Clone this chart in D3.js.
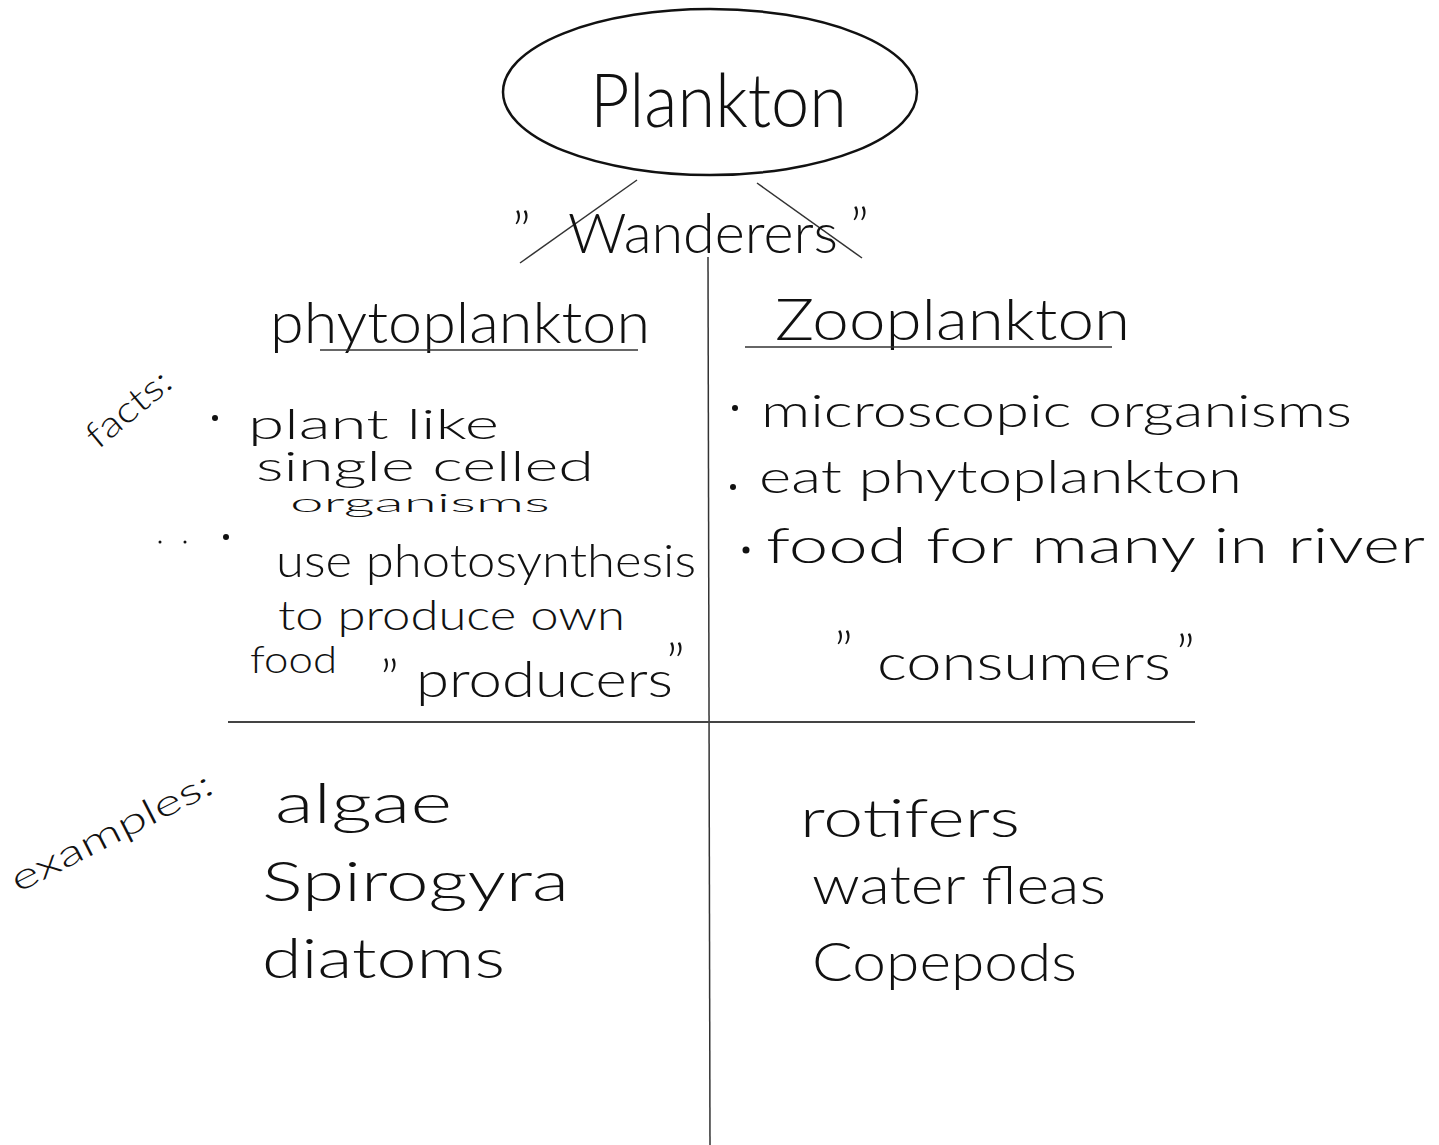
<!DOCTYPE html>
<html>
<head>
<meta charset="utf-8">
<script src="https://cdn.jsdelivr.net/npm/d3@7"></script>
<style>
  body { margin:0; background:#fff; }
  svg text { font-family: Lato, "Open Sans", "DejaVu Sans", sans-serif; font-weight:300; fill:#111; }
</style>
</head>
<body>
<script>
// data
var title = "Plankton";
var subtitle = "Wanderers";
var headings = ["phytoplankton", "Zooplankton"];
var phytoFacts = ["plant like", "single celled", "organisms", "use photosynthesis", "to produce own", "food"];
var zooFacts = ["microscopic organisms", "eat phytoplankton", "food for many in river"];
var roles = ["producers", "consumers"];
var phytoExamples = ["algae", "Spirogyra", "diatoms"];
var zooExamples = ["rotifers", "water fleas", "Copepods"];
var sideLabels = ["facts:", "examples:"];

var w = 1439, h = 1145;

var svg = d3.select("body")
            .append("svg")
              .attr("width", w)
              .attr("height", h);

// helper for a line of handwriting-ish text, stretched to its width
var write = function(g, str, x, y, size, len) {
  var t = g.append("text")
      .attr("x", x)
      .attr("y", y)
      .style("font-size", size + "px")
      .text(str);
  if (len) t.attr("textLength", len).attr("lengthAdjust", "spacingAndGlyphs");
  return t;
};

var quote = function(g, x, y) {
  g.append("text")
      .attr("x", x)
      .attr("y", y)
      .style("font-size", "56px")
      .text("\u201D");
};

// title ellipse
svg.append("ellipse")
    .attr("cx", 710)
    .attr("cy", 92)
    .attr("rx", 207)
    .attr("ry", 83)
    .attr("fill", "none")
    .attr("stroke", "#111")
    .attr("stroke-width", 2.5);

write(svg, title, 590, 127, 74, 257);

// branches
var branches = [[637, 180, 520, 263], [757, 183, 862, 258]];
svg.selectAll("line.branch")
    .data(branches)
    .enter()
    .append("line")
      .attr("class", "branch")
      .attr("x1", function(d){return d[0]})
      .attr("y1", function(d){return d[1]})
      .attr("x2", function(d){return d[2]})
      .attr("y2", function(d){return d[3]})
      .attr("stroke", "#333")
      .attr("stroke-width", 1.5);

quote(svg, 512, 252);
write(svg, subtitle, 568, 253, 56, 270);
quote(svg, 850, 248);

// dividers
svg.append("line")
    .attr("x1", 708).attr("x2", 710)
    .attr("y1", 257).attr("y2", h)
    .attr("stroke", "#333")
    .attr("stroke-width", 1.5);
svg.append("line")
    .attr("x1", 228).attr("x2", 1195)
    .attr("y1", 722).attr("y2", 722)
    .attr("stroke", "#444")
    .attr("stroke-width", 1.8);

// column headings
var headX = [270, 775], headLen = [380, 355], headUnder = [[320, 638, 350], [745, 1112, 347]];
headings.forEach(function(d, i) {
  write(svg, d, headX[i], 343 - i * 3, 58, headLen[i]);
  svg.append("line")
      .attr("x1", headUnder[i][0]).attr("x2", headUnder[i][1])
      .attr("y1", headUnder[i][2]).attr("y2", headUnder[i][2])
      .attr("stroke", "#333")
      .attr("stroke-width", 1.5);
});

// side labels
write(svg, sideLabels[0], 98, 450, 36, 100).attr("transform", "rotate(-40,98,450)");
write(svg, sideLabels[1], 18, 893, 36, 222).attr("transform", "rotate(-27,18,893)");

// phytoplankton facts
var phytoLayout = [
  {x:248, y:439, s:42, len:251},
  {x:256, y:481, s:42, len:338},
  {x:290, y:512, s:26, len:260},
  {x:276, y:577, s:46, len:420},
  {x:278, y:630, s:42, len:347},
  {x:250, y:673, s:38, len:87}
];
var gPhyto = svg.append("g").attr("id", "phyto");
phytoFacts.forEach(function(d, i) {
  var l = phytoLayout[i];
  write(gPhyto, d, l.x, l.y, l.s, l.len);
});

// zooplankton facts
var zooLayout = [
  {x:761, y:427, s:46, len:591},
  {x:759, y:493, s:46, len:483},
  {x:766, y:563, s:50, len:659}
];
var gZoo = svg.append("g").attr("id", "zoo");
zooFacts.forEach(function(d, i) {
  var l = zooLayout[i];
  write(gZoo, d, l.x, l.y, l.s, l.len);
});

// bullets and stray dots
var bullets = [[215, 418, 3], [226, 537, 3], [160, 542, 1.5], [185, 542, 1.5],
               [735, 408, 3], [733, 487, 3], [746, 550, 3.5]];
svg.selectAll("circle.bullet")
    .data(bullets)
    .enter()
    .append("circle")
      .attr("class", "bullet")
      .attr("cx", function(d){return d[0]})
      .attr("cy", function(d){return d[1]})
      .attr("r", function(d){return d[2]})
      .attr("fill", "#111");

// roles
quote(svg, 380, 700);
write(svg, roles[0], 416, 697, 50, 257);
quote(svg, 666, 684);
quote(svg, 834, 672);
write(svg, roles[1], 877, 680, 50, 294);
quote(svg, 1176, 675);

// examples
var yEx = d3.scalePoint()
            .domain(d3.range(phytoExamples.length))
            .range([823, 978]);
var exLeftX = [275, 262, 262], exLeftLen = [177, 307, 243];
var exRightX = [800, 812, 812], exRightLen = [220, 294, 265];

svg.append("g").selectAll("text")
    .data(phytoExamples)
    .enter()
    .append("text")
      .attr("x", function(d, i){return exLeftX[i]})
      .attr("y", function(d, i){return yEx(i)})
      .attr("textLength", function(d, i){return exLeftLen[i]})
      .attr("lengthAdjust", "spacingAndGlyphs")
      .style("font-size", "56px")
      .text(function(d){return d});

svg.append("g").selectAll("text")
    .data(zooExamples)
    .enter()
    .append("text")
      .attr("x", function(d, i){return exRightX[i]})
      .attr("y", function(d, i){return yEx(i) + (i === 0 ? 14 : 3)})
      .attr("textLength", function(d, i){return exRightLen[i]})
      .attr("lengthAdjust", "spacingAndGlyphs")
      .style("font-size", "54px")
      .text(function(d){return d});
</script>
</body>
</html>
